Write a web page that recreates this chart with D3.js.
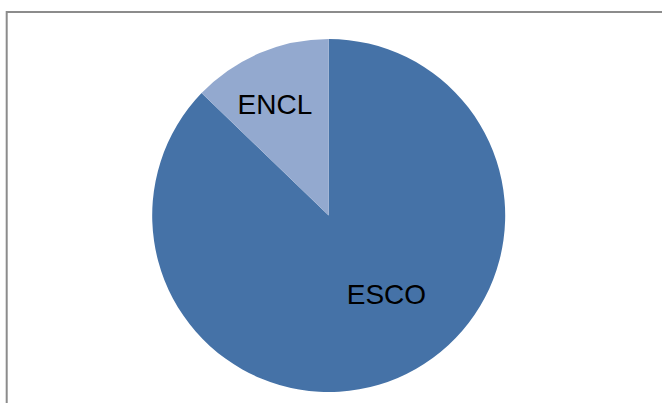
<!DOCTYPE html>
<html>
<head>
<meta charset="utf-8">
<script src="https://cdn.jsdelivr.net/npm/d3@7/dist/d3.min.js"></script>
<style>
  html, body { margin: 0; padding: 0; background: #ffffff; }
  svg { display: block; }
</style>
</head>
<body>
<svg id="chart" width="662" height="403"></svg>
<script>
// Share of each category (percent)
const categories = ["ESCO", "ENCL"];
const values = [87.2, 12.8];
const colors = ["#4572A7", "#93A9CF"];

const width = 662, height = 403;
const cx = 328.7, cy = 215.5, radius = 176.5;

const svg = d3.select("#chart");

// Chart-area frame (only top and left edges fall inside the viewport)
svg.append("rect")
  .attr("x", 6.7).attr("y", 12)
  .attr("width", 800).attr("height", 600)
  .attr("fill", "#ffffff")
  .attr("stroke", "#8c8c8c")
  .attr("stroke-width", 2);

const pie = d3.pie().sort(null).value(d => d.value);
const arcs = pie(categories.map((c, i) => ({ name: c, value: values[i], color: colors[i] })));

const arc = d3.arc().innerRadius(0).outerRadius(radius);

const g = svg.append("g").attr("transform", `translate(${cx},${cy})`);

g.selectAll("path.slice")
  .data(arcs)
  .join("path")
  .attr("class", "slice")
  .attr("d", arc)
  .attr("fill", d => d.data.color);

// Label placement: polar offset (degrees clockwise from 12 o'clock, distance from centre)
const labelPolar = { ESCO: { angle: 143.5, r: 97 }, ENCL: { angle: -25.7, r: 124 } };

g.selectAll("text.label")
  .data(arcs)
  .join("text")
  .attr("class", "label")
  .attr("x", d => {
    const p = labelPolar[d.data.name];
    return p.r * Math.sin(p.angle * Math.PI / 180);
  })
  .attr("y", d => {
    const p = labelPolar[d.data.name];
    return -p.r * Math.cos(p.angle * Math.PI / 180) + 10.3;
  })
  .attr("text-anchor", "middle")
  .attr("font-family", "Liberation Sans, Arial, sans-serif")
  .attr("font-size", 28)
  .attr("fill", "#000000")
  .text(d => d.data.name);
</script>
</body>
</html>
